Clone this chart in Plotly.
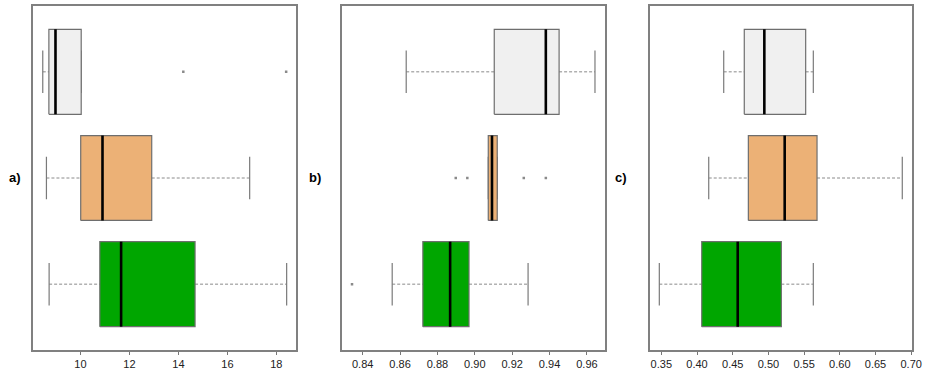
import plotly.graph_objects as go

# Group order bottom -> top (y positions 1, 2, 3)
group_names = ["green", "orange", "gray"]
group_pos = [1, 2, 3]
fill_colors = ["#00A600", "#ECB176", "#F0F0F0"]

# Panel a)
a_lo = [8.72, 8.61, 8.46]
a_q1 = [10.79, 10.01, 8.71]
a_med = [11.66, 10.90, 8.98]
a_q3 = [14.68, 12.91, 10.03]
a_hi = [18.42, 16.91, 10.03]
a_out_x = [14.2, 18.4]
a_out_g = [3, 3]

# Panel b)
b_lo = [0.8558, 0.9072, 0.8633]
b_q1 = [0.8722, 0.9072, 0.9104]
b_med = [0.8868, 0.9092, 0.9380]
b_q3 = [0.8969, 0.9120, 0.9451]
b_hi = [0.9285, 0.9120, 0.9643]
b_out_x = [0.8343, 0.8898, 0.8960, 0.9262, 0.9380]
b_out_g = [1, 2, 2, 2, 2]

# Panel c)
c_lo = [0.3472, 0.4164, 0.4374]
c_q1 = [0.4066, 0.4719, 0.4662]
c_med = [0.4570, 0.5228, 0.4943]
c_q3 = [0.5181, 0.5681, 0.5522]
c_hi = [0.5629, 0.6875, 0.5629]
c_out_x = []
c_out_g = []

a_ticks = [10, 12, 14, 16, 18]
b_ticks = [0.84, 0.86, 0.88, 0.90, 0.92, 0.94, 0.96]
c_ticks = [0.35, 0.40, 0.45, 0.50, 0.55, 0.60, 0.65, 0.70]
panel_labels = ["a)", "b)", "c)"]

panels = [
    (a_lo, a_q1, a_med, a_q3, a_hi, a_out_x, a_out_g, a_ticks, None),
    (b_lo, b_q1, b_med, b_q3, b_hi, b_out_x, b_out_g, b_ticks, ".2f"),
    (c_lo, c_q1, c_med, c_q3, c_hi, c_out_x, c_out_g, c_ticks, ".2f"),
]

W, H = 926, 374
ml, mr, mt, mb = 33, 12, 4, 20
pw = W - ml - mr
# pixel spans of the three plot boxes
spans = [(33, 297), (343, 606), (651, 914)]
domains = [[(s - ml) / pw, (e - ml) / pw] for s, e in spans]
label_px = [15, 316, 622]

half = 0.4   # half box height
cap = 0.2    # half staple length
edge = "#6E6E6E"

fig = go.Figure()
for i, (lo, q1, med, q3, hi, ox, og, ticks, fmt) in enumerate(panels):
    xa = "x" if i == 0 else f"x{i+1}"
    ya = "y" if i == 0 else f"y{i+1}"
    wx, wy, sx, sy, mx, my = [], [], [], [], [], []
    for g in range(3):
        p = group_pos[g]
        # whiskers (dashed)
        wx += [lo[g], q1[g], None, q3[g], hi[g], None]
        wy += [p, p, None, p, p, None]
        # staples
        sx += [lo[g], lo[g], None, hi[g], hi[g], None]
        sy += [p - cap, p + cap, None, p - cap, p + cap, None]
    fig.add_trace(go.Scatter(x=wx, y=wy, mode="lines", xaxis=xa, yaxis=ya,
                             line=dict(color="#8A8A8A", width=1, dash="3px,2px"),
                             hoverinfo="skip", showlegend=False))
    fig.add_trace(go.Scatter(x=sx, y=sy, mode="lines", xaxis=xa, yaxis=ya,
                             line=dict(color="#7A7A7A", width=1.2),
                             hoverinfo="skip", showlegend=False))
    for g in range(3):
        p = group_pos[g]
        fig.add_trace(go.Scatter(
            x=[q1[g], q3[g], q3[g], q1[g], q1[g]],
            y=[p - half, p - half, p + half, p + half, p - half],
            mode="lines", fill="toself", fillcolor=fill_colors[g],
            line=dict(color=edge, width=1.2), xaxis=xa, yaxis=ya,
            name=group_names[g], showlegend=False))
        mx += [med[g], med[g], None]
        my += [p - half, p + half, None]
    fig.add_trace(go.Scatter(x=mx, y=my, mode="lines", xaxis=xa, yaxis=ya,
                             line=dict(color="black", width=2.6),
                             hoverinfo="skip", showlegend=False))
    if ox:
        fig.add_trace(go.Scatter(x=ox, y=og, mode="markers", xaxis=xa, yaxis=ya,
                                 marker=dict(color="#8A8A8A", size=2.5, symbol="square"),
                                 showlegend=False))
    allv = lo + hi + ox
    vmin, vmax = min(allv), max(allv)
    ext = (vmax - vmin) * 0.04
    xkey = "xaxis" if i == 0 else f"xaxis{i+1}"
    ykey = "yaxis" if i == 0 else f"yaxis{i+1}"
    fig.layout[xkey] = dict(
        domain=domains[i], anchor=ya, range=[vmin - ext, vmax + ext],
        tickvals=ticks, tickformat=fmt, ticks="outside", ticklen=3,
        tickcolor="#777", tickwidth=1,
        showline=True, mirror=True, linecolor="#808080", linewidth=1.5,
        showgrid=False, zeroline=False,
        tickfont=dict(family="Liberation Sans, Arial", size=11, color="#222"))
    fig.layout[ykey] = dict(
        domain=[0, 1], anchor=xa, range=[0.38, 3.62],
        showticklabels=False, ticks="", showline=True, mirror=True,
        linecolor="#808080", linewidth=1.5, showgrid=False, zeroline=False)
    fig.add_annotation(text=f"<b>{panel_labels[i]}</b>", xref="paper", yref="paper",
                       x=(label_px[i] - ml) / pw, y=(H - mb - 178) / (H - mt - mb),
                       xanchor="center", yanchor="middle", showarrow=False,
                       font=dict(family="Liberation Sans, Arial", size=13, color="black"))

fig.update_layout(width=W, height=H, margin=dict(l=ml, r=mr, t=mt, b=mb),
                  paper_bgcolor="white", plot_bgcolor="white", showlegend=False)
fig.write_html("out.html", config={"displayModeBar": False},
               post_script="document.body.style.margin='0';document.body.style.overflow='hidden';")
